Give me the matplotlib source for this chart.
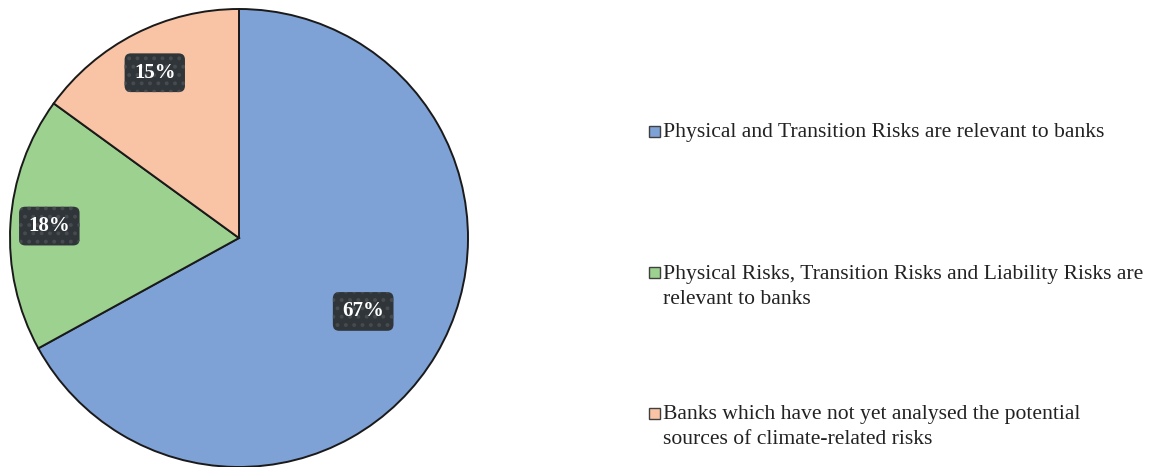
import numpy as np
import matplotlib.pyplot as plt
from matplotlib.patches import Rectangle

plt.rcParams['font.family'] = ['Liberation Serif', 'DejaVu Serif']
plt.rcParams['hatch.linewidth'] = 1.6

categories = [
    "Physical and Transition Risks are relevant to banks",
    "Physical Risks, Transition Risks and Liability Risks are\nrelevant to banks",
    "Banks which have not yet analysed the potential\nsources of climate-related risks",
]
shares = [67, 18, 15]
colors = ['#7ea1d6', '#9dd18f', '#f9c4a5']
label_dist = [0.63, 0.83, 0.81]

W, H = 1149, 467
fig = plt.figure(figsize=(W / 100, H / 100), dpi=100)

# pie axes: centre (239, 238) px, radius 229 px
cx, cy, r = 239, 238, 229
ax = fig.add_axes([(cx - r) / W, (H - cy - r) / H, 2 * r / W, 2 * r / H])
wedges, _ = ax.pie(shares, colors=colors, startangle=90, counterclock=False,
                   wedgeprops=dict(edgecolor='#1a1a1a', linewidth=1.4))
ax.set_xlim(-1, 1)
ax.set_ylim(-1, 1)
ax.set_aspect('equal')

for w, val, d in zip(wedges, shares, label_dist):
    mid = np.deg2rad((w.theta1 + w.theta2) / 2)
    ax.text(d * np.cos(mid), d * np.sin(mid), f"{val}%", ha='center', va='center',
            color='white', fontsize=15, fontweight='bold',
            bbox=dict(boxstyle='round,pad=0.45,rounding_size=0.3', facecolor='#30353a',
                      edgecolor='#464b50', hatch='..', linewidth=0.0))

# legend entries drawn by hand so the marker sits on the first line
entry_y = [131, 272, 413]
for lab, col, y in zip(categories, colors, entry_y):
    fig.patches.append(Rectangle((649 / W, (H - y - 5.5) / H), 11 / W, 11 / H,
                                 transform=fig.transFigure, facecolor=col,
                                 edgecolor='#404040', linewidth=1.0))
    for i, ln in enumerate(lab.split('\n')):
        fig.text(663 / W, (H - y - 2 - 25 * i) / H, ln, ha='left', va='center',
                 fontsize=15.6, color='#222222')

fig.savefig('out.png', dpi=100)
